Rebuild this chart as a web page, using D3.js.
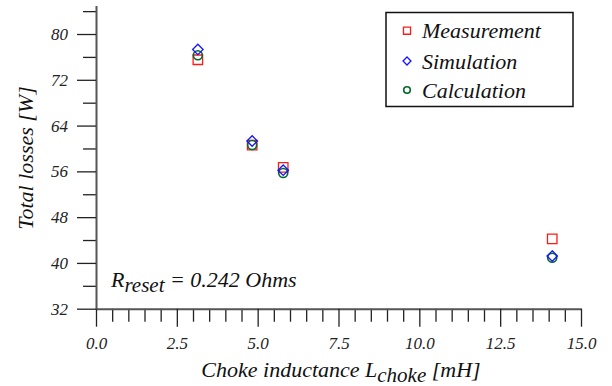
<!DOCTYPE html>
<html>
<head>
  <meta charset="UTF-8">
  <title>Total losses vs choke inductance</title>
  <script src="https://d3js.org/d3.v7.min.js"></script>
</head>
<body style="margin:0">
  <svg id="chart" width="612" height="386" font-family="Liberation Serif" font-style="italic"></svg>

  <script>
    // Data
    const inductance = [3.15, 4.83, 5.79, 14.11];           // mH
    const measurement = [75.5, 60.6, 56.7, 44.2];           // W
    const simulation = [77.3, 61.3, 56.2, 41.2];            // W
    const calculation = [76.3, 60.6, 55.7, 40.9];           // W

    const xMajorTicks = [0, 2.5, 5, 7.5, 10, 12.5, 15];
    const yMajorTicks = [32, 40, 48, 56, 64, 72, 80];
    const yMinorTicks = [36, 44, 52, 60, 68, 76, 84];

    const FONT = "Liberation Serif";

    const svg = d3.select("#chart");

    const x = d3.scaleLinear().domain([0, 15]).range([96, 581]);
    const y = d3.scaleLinear().domain([32, 85]).range([308.7, 5.4]);

    // minor x ticks every 0.5
    const xMinorTicks = d3.range(0, 15.01, 0.5).filter(v => Math.abs(v / 2.5 - Math.round(v / 2.5)) > 1e-6);

    // x axis
    const xAxisG = svg.append("g").attr("transform", "translate(0," + y(32) + ")");
    xAxisG.append("g")
      .call(d3.axisBottom(x).tickValues(xMinorTicks).tickSize(13).tickSizeOuter(0).tickFormat(""))
      .call(g => g.select(".domain").remove());
    xAxisG.append("g")
      .call(d3.axisBottom(x).tickValues(xMajorTicks).tickSize(18).tickSizeOuter(0).tickPadding(10).tickFormat(d3.format(".1f")))
      .call(g => g.select(".domain").attr("stroke", "#555").attr("stroke-width", 2));

    // y axis
    const yAxisG = svg.append("g").attr("transform", "translate(" + x(0) + ",0)");
    yAxisG.append("g")
      .call(d3.axisLeft(y).tickValues(yMinorTicks).tickSize(13).tickSizeOuter(0).tickFormat(""))
      .call(g => g.select(".domain").remove());
    yAxisG.append("g")
      .call(d3.axisLeft(y).tickValues(yMajorTicks).tickSize(19).tickSizeOuter(0).tickPadding(9).tickFormat(d3.format("d")))
      .call(g => g.select(".domain").attr("stroke", "#555").attr("stroke-width", 2));

    // axis groups default to sans-serif; use the serif italic instead
    svg.selectAll("g").attr("font-family", FONT);
    svg.selectAll(".tick line").attr("stroke", "#222").attr("stroke-width", 1.3);
    svg.selectAll(".tick text")
      .attr("fill", "#222")
      .attr("font-family", FONT)
      .attr("font-style", "italic")
      .attr("font-size", 17);

    // axis titles
    const xTitle = svg.append("text")
      .attr("font-family", FONT).attr("font-style", "italic").attr("font-size", 22)
      .attr("fill", "#111")
      .attr("x", 341)
      .attr("y", 377)
      .attr("text-anchor", "middle");
    xTitle.append("tspan").text("Choke inductance L");
    xTitle.append("tspan").attr("dy", 5).attr("font-size", 21).text("choke");
    xTitle.append("tspan").attr("dy", -5).text(" [mH]");

    svg.append("text")
      .attr("font-family", FONT).attr("font-style", "italic").attr("font-size", 22)
      .attr("fill", "#111")
      .attr("transform", "translate(33,158) rotate(-90)")
      .attr("text-anchor", "middle")
      .text("Total losses [W]");

    // annotation
    const note = svg.append("text")
      .attr("font-family", FONT).attr("font-style", "italic").attr("font-size", 22)
      .attr("fill", "#111")
      .attr("x", 111)
      .attr("y", 286.5);
    note.append("tspan").text("R");
    note.append("tspan").attr("dy", 5).attr("font-size", 21).text("reset");
    note.append("tspan").attr("dy", -5).text(" = 0.242 Ohms");

    // markers
    const diamondType = d3.symbolDiamond2 || d3.symbolDiamond;
    const symSquare = d3.symbol().type(d3.symbolSquare).size(90);
    const symDiamond = d3.symbol().type(diamondType).size(70);

    svg.selectAll(".meas")
      .data(inductance)
      .enter()
      .append("path")
      .attr("class", "meas")
      .attr("d", symSquare)
      .attr("transform", (d, i) => "translate(" + x(d) + "," + y(measurement[i]) + ")")
      .attr("fill", "none")
      .attr("stroke", "#ff1a1a")
      .attr("stroke-width", 1.3);

    svg.selectAll(".calc")
      .data(inductance)
      .enter()
      .append("circle")
      .attr("class", "calc")
      .attr("cx", d => x(d))
      .attr("cy", (d, i) => y(calculation[i]))
      .attr("r", 4.5)
      .attr("fill", "none")
      .attr("stroke", "#006b2a")
      .attr("stroke-width", 1.6);

    svg.selectAll(".sim")
      .data(inductance)
      .enter()
      .append("path")
      .attr("class", "sim")
      .attr("d", symDiamond)
      .attr("transform", (d, i) => "translate(" + x(d) + "," + y(simulation[i]) + ")")
      .attr("fill", "none")
      .attr("stroke", "#1414ff")
      .attr("stroke-width", 1.3);

    // legend
    const legend = svg.append("g");
    legend.append("rect")
      .attr("x", 386).attr("y", 12.5)
      .attr("width", 187).attr("height", 94)
      .attr("fill", "#fff")
      .attr("stroke", "#111")
      .attr("stroke-width", 1.5);

    const legendItems = [
      { label: "Measurement", type: "square", color: "#ff1a1a", cy: 30.7 },
      { label: "Simulation", type: "diamond", color: "#1414ff", cy: 61 },
      { label: "Calculation", type: "circle", color: "#006b2a", cy: 90 }
    ];

    legendItems.forEach(item => {
      if (item.type === "circle") {
        legend.append("circle")
          .attr("cx", 407).attr("cy", item.cy).attr("r", 3.3)
          .attr("fill", "none").attr("stroke", item.color).attr("stroke-width", 1.6);
      } else {
        legend.append("path")
          .attr("d", d3.symbol().type(item.type === "square" ? d3.symbolSquare : diamondType).size(item.type === "square" ? 50 : 40))
          .attr("transform", "translate(407," + item.cy + ")")
          .attr("fill", "none").attr("stroke", item.color).attr("stroke-width", 1.3);
      }
      legend.append("text")
        .attr("font-family", FONT).attr("font-style", "italic").attr("font-size", 22)
        .attr("fill", "#111")
        .attr("x", 422)
        .attr("y", item.cy + 7.5)
        .text(item.label);
    });
  </script>
</body>
</html>
